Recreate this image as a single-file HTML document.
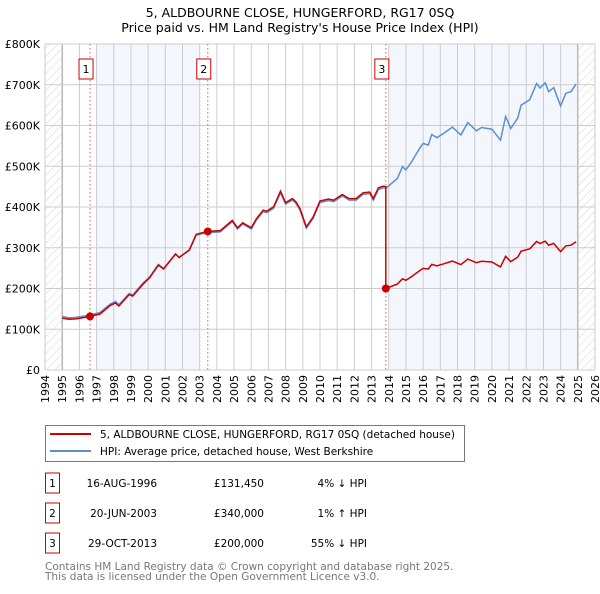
<!DOCTYPE html>
<html><head><meta charset="utf-8"><style>
body{margin:0;background:#fff;width:600px;height:590px;overflow:hidden;font-family:"DejaVu Sans","Liberation Sans",sans-serif}
svg text{font-family:"DejaVu Sans","Liberation Sans",sans-serif}
</style></head><body>
<svg id="c" width="600" height="590" xmlns="http://www.w3.org/2000/svg">
<defs><pattern id="hatch" width="6" height="6" patternUnits="userSpaceOnUse" patternTransform="rotate(45)"><line x1="0" y1="0" x2="0" y2="6" stroke="#d4d4d4" stroke-width="1"/></pattern></defs>
<text x="300" y="17" text-anchor="middle" font-size="12.5">5, ALDBOURNE CLOSE, HUNGERFORD, RG17 0SQ</text>
<text x="300" y="32" text-anchor="middle" font-size="12.5">Price paid vs. HM Land Registry's House Price Index (HPI)</text>
<g id="plot"></g>
<g>
<rect x="45.5" y="425.5" width="419" height="36" fill="#fff" stroke="#777"/>
<line x1="50" y1="434" x2="91" y2="434" stroke="#cc0000" stroke-width="2"/>
<text x="100" y="438" font-size="10.5">5, ALDBOURNE CLOSE, HUNGERFORD, RG17 0SQ (detached house)</text>
<line x1="50" y1="451" x2="91" y2="451" stroke="#5b8fd0" stroke-width="2"/>
<text x="100" y="455" font-size="10.5">HPI: Average price, detached house, West Berkshire</text>
</g>
<g id="table" font-size="10.5"></g>
<text x="45" y="570" font-size="10.5" fill="#777">Contains HM Land Registry data © Crown copyright and database right 2025.</text>
<text x="45" y="580" font-size="10.5" fill="#777">This data is licensed under the Open Government Licence v3.0.</text>
</svg>
<script>
const hpiYears=[1995.0,1995.4,1995.8,1996.2,1996.6,1997.2,1997.8,1998.1,1998.3,1998.9,1999.1,1999.7,2000.1,2000.6,2000.9,2001.6,2001.8,2002.4,2002.8,2003.1,2003.46,2004.2,2004.9,2005.2,2005.5,2006.0,2006.3,2006.7,2006.9,2007.3,2007.7,2008.0,2008.4,2008.6,2008.83,2009.2,2009.6,2010.0,2010.5,2010.8,2011.3,2011.7,2012.1,2012.5,2012.9,2013.1,2013.4,2013.67,2013.83,2014.5,2014.8,2015.0,2015.3,2015.8,2016.0,2016.3,2016.5,2016.8,2017.2,2017.7,2018.2,2018.6,2019.1,2019.4,2020.0,2020.5,2020.8,2021.1,2021.5,2021.7,2022.2,2022.6,2022.8,2023.1,2023.3,2023.6,2024.0,2024.3,2024.6,2024.9];
const hpiValues=[131,128,129,132,135,141,162,168,160,188,184,213,229,259,249,285,276,294,331,334,337,339,364,346,358,346,368,389,386,397,435,407,417,409,393,348,372,411,416,413,427,417,417,431,433,417,443,447,446,470,499,491,509,544,556,552,578,570,581,596,577,607,587,595,591,564,622,593,618,650,663,703,692,705,683,693,648,679,683,702];
const saleYears=[1996.62,2003.47,2013.83];
const salePrices=[131.45,340,200];
const saleLabels=["1","2","3"];
const saleDates=["16-AUG-1996","20-JUN-2003","29-OCT-2013"];
const salePriceText=["£131,450","£340,000","£200,000"];
const saleHpiText=["4% ↓ HPI","1% ↑ HPI","55% ↓ HPI"];
const yTicks=[0,100,200,300,400,500,600,700,800];
const yTickLabels=["£0","£100K","£200K","£300K","£400K","£500K","£600K","£700K","£800K"];
const xYears=[1994,1995,1996,1997,1998,1999,2000,2001,2002,2003,2004,2005,2006,2007,2008,2009,2010,2011,2012,2013,2014,2015,2016,2017,2018,2019,2020,2021,2022,2023,2024,2025,2026];

const NS="http://www.w3.org/2000/svg";
const X0=45,X1=595,Y0=370,Y1=44;
const xs=y=>X0+(y-1994)/32*(X1-X0);
const ys=v=>Y0-v/800*(Y0-Y1);
const plot=document.getElementById('plot');
function mk(tag,attrs,parent){const e=document.createElementNS(NS,tag);for(const k in attrs)e.setAttribute(k,attrs[k]);(parent||plot).appendChild(e);return e;}
function hpiAt(y){for(let i=1;i<hpiYears.length;i++){if(y<=hpiYears[i]){const t=(y-hpiYears[i-1])/(hpiYears[i]-hpiYears[i-1]);return hpiValues[i-1]+t*(hpiValues[i]-hpiValues[i-1]);}}return hpiValues[hpiValues.length-1];}

let e=mk('rect',{x:xs(1997),y:Y1,width:xs(2003)-xs(1997),height:Y0-Y1,fill:'#f3f6fd'});


e=mk('rect',{x:xs(2014),y:Y1,width:xs(2025)-xs(2014),height:Y0-Y1,fill:'#f3f6fd'});


e=mk('rect',{x:xs(1994),y:Y1,width:xs(1995)-xs(1994),height:Y0-Y1,fill:'url(#hatch)'});


e=mk('rect',{x:xs(2025),y:Y1,width:xs(2026)-xs(2025),height:Y0-Y1,fill:'url(#hatch)'});


xYears.forEach(yr=>{
 const g=mk('line',{x1:xs(yr),x2:xs(yr),y1:Y1,y2:Y0,stroke:(yr==1995||yr==2025)?'#999':'#ccc','stroke-width':1});
 
 
 const t=mk('text',{x:0,y:0,'font-size':11,'text-anchor':'end',transform:`translate(${xs(yr)+4},${Y0+5}) rotate(-90)`});
 t.textContent=yr;
 
 
});
yTicks.forEach((v,i)=>{
 const g=mk('line',{x1:X0,x2:X1,y1:ys(v),y2:ys(v),stroke:'#ccc','stroke-width':1});
 
 
 const t=mk('text',{x:40,y:ys(v)+4,'font-size':11,'text-anchor':'end'});
 t.textContent=yTickLabels[i];
 
 
});
saleYears.forEach((sy,i)=>{
 const l=mk('line',{x1:xs(sy),x2:xs(sy),y1:Y1,y2:Y0,stroke:'#e06060','stroke-dasharray':'1.5,2.5','stroke-width':1});
 
 
 const r=mk('rect',{x:xs(sy)-11,y:59,width:14,height:20,fill:'#fff',stroke:'#cc0000'});
 
 
 const t=mk('text',{x:xs(sy)-4,y:73,'font-size':11,'text-anchor':'middle'});
 t.textContent=saleLabels[i];
 
 
});
let d='';hpiYears.forEach((y,i)=>{d+=(i?'L':'M')+xs(y).toFixed(1)+','+ys(hpiValues[i]).toFixed(1);});
e=mk('path',{d:d,fill:'none',stroke:'#5b8fd0','stroke-width':1.5});


const ratios=saleYears.map((s,i)=>salePrices[i]/hpiAt(s));
function ratioAt(y){
 if(y<saleYears[0])return ratios[0];
 if(y<saleYears[1]){const t=(y-saleYears[0])/(saleYears[1]-saleYears[0]);return ratios[0]+t*(ratios[1]-ratios[0]);}
 if(y<saleYears[2])return ratios[1];
 return ratios[2];
}
const pts=[];
hpiYears.forEach((y,i)=>{
 if(y<saleYears[2]-0.001){pts.push([y,hpiValues[i]*ratioAt(y)]);}
 else if(Math.abs(y-saleYears[2])<0.001){pts.push([y,hpiValues[i]*ratios[1]]);pts.push([y,salePrices[2]]);}
 else pts.push([y,hpiValues[i]*ratios[2]]);
});
saleYears.slice(0,2).forEach((s,i)=>pts.push([s,salePrices[i]]));
pts.sort((a,b)=>a[0]-b[0]||b[1]-a[1]);
d='';pts.forEach((p,i)=>{d+=(i?'L':'M')+xs(p[0]).toFixed(1)+','+ys(p[1]).toFixed(1);});
e=mk('path',{d:d,fill:'none',stroke:'#cc0000','stroke-width':1.5});


saleYears.forEach((s,i)=>{
 const c=mk('circle',{cx:xs(s),cy:ys(salePrices[i]),r:4,fill:'#cc0000'});
 
 
});
const tb=document.getElementById('table');
saleYears.forEach((s,i)=>{
 const cy=483+i*30;
 const r=mk('rect',{x:45.5,y:cy-10,width:14,height:20,fill:'none',stroke:'#cc0000'},tb);
 
 
 const cells=[[52.5,saleLabels[i],'middle','index'],[157,saleDates[i],'end','date'],[264,salePriceText[i],'end','price'],[367,saleHpiText[i],'end','hpi-diff']];
 cells.forEach(c=>{
  const t=mk('text',{x:c[0],y:cy+4,'text-anchor':c[2]},tb);
  t.textContent=c[1];
  
  
 });
});
</script>
</body></html>
